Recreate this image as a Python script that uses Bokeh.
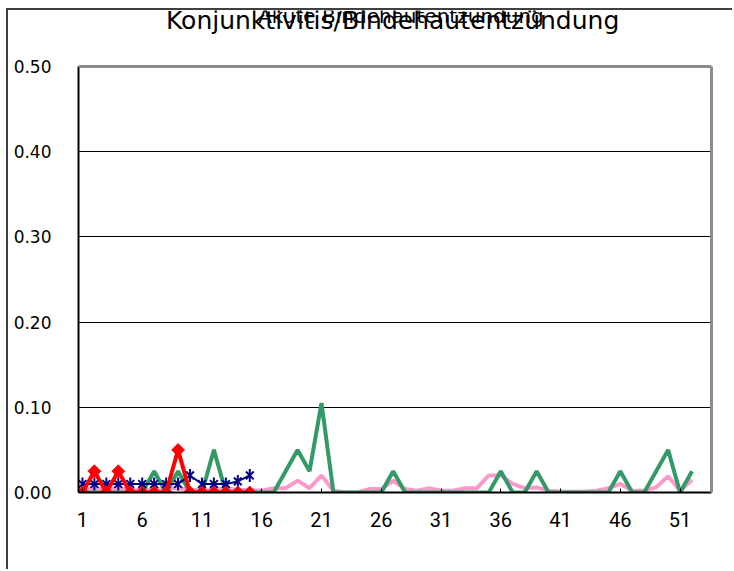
import math
from bokeh.plotting import figure
from bokeh.models import FixedTicker, Label, NumeralTickFormatter, Range1d, LinearAxis, Span
from bokeh.embed import file_html
from bokeh.resources import INLINE

title_main = "Konjunktivitis/Bindehautentzündung"
title_back = "Akute Bindehautentzündung"

weeks = list(range(1, 53))
weeks_current = list(range(1, 16))

pink_values = [0.003, 0.005, 0.003, 0.005, 0.003, 0.003, 0.003, 0.005, 0.005, 0.003,
               0.003, 0.003, 0.005, 0.003, 0.003, 0.002, 0.005, 0.005, 0.014, 0.005,
               0.02, 0.002, 0.0, 0.0, 0.004, 0.004, 0.014, 0.004, 0.002, 0.005,
               0.002, 0.002, 0.005, 0.005, 0.02, 0.02, 0.01, 0.005, 0.006, 0.002,
               0.001, 0.001, 0.001, 0.002, 0.005, 0.01, 0.002, 0.002, 0.006, 0.019,
               0.002, 0.015]

green_values = [0.0, 0.0, 0.0, 0.0, 0.0, 0.0, 0.025, 0.0, 0.025, 0.0,
                0.0, 0.05, 0.0, 0.0, 0.0, 0.0, 0.0, 0.025, 0.05, 0.025,
                0.105, 0.0, 0.0, 0.0, 0.0, 0.0, 0.025, 0.0, 0.0, 0.0,
                0.0, 0.0, 0.0, 0.0, 0.0, 0.025, 0.0, 0.0, 0.025, 0.0,
                0.0, 0.0, 0.0, 0.0, 0.0, 0.025, 0.0, 0.0, 0.025, 0.05,
                0.0, 0.025]

navy_values = [0.01, 0.01, 0.01, 0.01, 0.01, 0.01, 0.01, 0.01, 0.01, 0.02,
               0.01, 0.01, 0.01, 0.013, 0.02]

red_values = [0.0, 0.025, 0.0, 0.025, 0.0, 0.0, 0.0, 0.0, 0.05, 0.0,
              0.0, 0.0, 0.0, 0.0, 0.0]

x_ticks = [1, 6, 11, 16, 21, 26, 31, 36, 41, 46, 51]
y_ticks = [0.0, 0.1, 0.2, 0.3, 0.4, 0.5]

Y_MAX = 0.5
Y_TOP = 0.5 + 56 / 852  # room above the plot area for the chart titles
X_START, X_END = 0.67, 53.63

p = figure(width=726, height=561, output_backend="svg", toolbar_location=None,
           x_range=Range1d(X_START, X_END), y_range=Range1d(0, Y_TOP),
           min_border_left=70, min_border_right=23, min_border_top=0,
           min_border_bottom=79)
p.styles = {"border-top": "2px solid #404040", "border-left": "2px solid #404040",
            "margin-left": "6px", "margin-top": "8px"}

p.background_fill_color = "white"
p.border_fill_color = "white"
p.outline_line_color = None

p.xgrid.visible = False
p.ygrid.grid_line_color = "black"
p.ygrid.grid_line_width = 1
p.ygrid.ticker = FixedTicker(ticks=y_ticks)

p.yaxis.ticker = FixedTicker(ticks=y_ticks)
p.yaxis.bounds = (0, Y_MAX)
p.yaxis.formatter = NumeralTickFormatter(format="0.00")
p.yaxis.axis_line_color = "black"
p.yaxis.axis_line_width = 2
p.yaxis.major_tick_in = 0
p.yaxis.major_tick_out = 0
p.yaxis.minor_tick_line_color = None
p.yaxis.major_label_standoff = 27
p.yaxis.major_label_text_font = "DejaVu Sans"
p.yaxis.major_label_text_font_size = "17px"
p.yaxis.major_label_text_color = "black"

p.xaxis.ticker = FixedTicker(ticks=x_ticks)
p.xaxis.axis_line_color = "black"
p.xaxis.axis_line_width = 2
p.xaxis.major_tick_in = 4
p.xaxis.major_tick_out = 0
p.xaxis.major_tick_line_color = "black"
p.xaxis.minor_tick_line_color = None
p.xaxis.major_label_standoff = 19
p.xaxis.major_label_text_font = "Roboto"
p.xaxis.major_label_text_font_size = "20px"
p.xaxis.major_label_text_color = "black"

# plot-area border (grey) on the right and top
right_axis = LinearAxis(bounds=(0, Y_MAX), ticker=FixedTicker(ticks=[]),
                        axis_line_color="#8c8c8c", axis_line_width=3,
                        major_tick_line_color=None, minor_tick_line_color=None,
                        major_label_text_font_size="0px")
p.add_layout(right_axis, "right")
p.add_layout(Span(location=Y_MAX, dimension="width", line_color="#8c8c8c", line_width=3))

p.line(weeks, pink_values, line_color="#ff99cc", line_width=4)
p.line(weeks, green_values, line_color="#339966", line_width=4)
p.line(weeks_current, navy_values, line_color="#000080", line_width=2)
p.scatter(weeks_current, navy_values, marker="x", size=11, line_color="#000080", line_width=2)
p.scatter(weeks_current, navy_values, marker="dash", size=13, angle=math.pi / 2,
          line_color="#000080", line_width=2)
p.line(weeks_current, red_values, line_color="#ff0000", line_width=4)
p.scatter(weeks_current, red_values, marker="square", size=9, angle=math.pi / 4,
          fill_color="#ff0000", line_color="#ff0000", line_width=1)

mid_x = (X_START + X_END) / 2
p.add_layout(Label(x=mid_x + 0.5, y=(492 - 15) / 852, text=title_back, text_align="center",
                   text_baseline="alphabetic", text_font="DejaVu Sans",
                   text_font_size="20px", text_color="black"))
p.add_layout(Label(x=mid_x - 0.2, y=(492 - 20) / 852, text=title_main, text_align="center",
                   text_baseline="alphabetic", text_font="DejaVu Sans",
                   text_font_size="25px", text_color="black"))

open("out.html", "w").write(file_html(p, INLINE))
